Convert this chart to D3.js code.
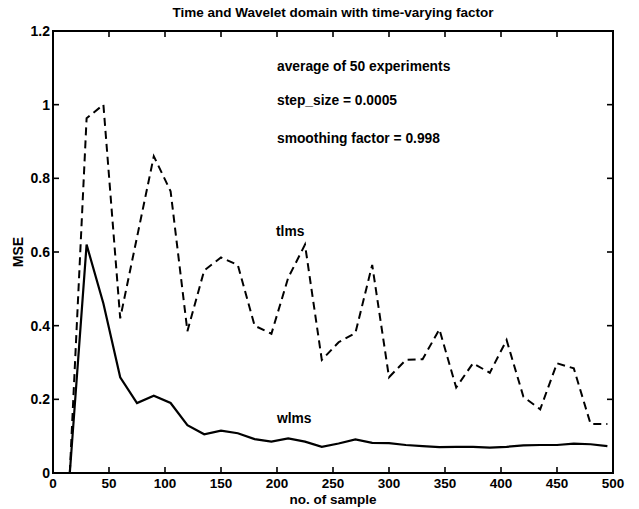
<!DOCTYPE html>
<html>
<head>
<meta charset="utf-8">
<script src="https://cdn.jsdelivr.net/npm/d3@7"></script>
<style>
  body { margin: 0; background: #fff; }
  svg { font-family: "Liberation Sans", Arial, sans-serif; font-weight: bold; }
</style>
</head>
<body>
<svg id="chart" width="639" height="509"></svg>
<script>
// samples (x) and the two MSE curves
const samples = [15,30,45,60,75,90,105,120,135,150,165,180,195,210,225,240,255,270,285,300,315,330,345,360,375,390,405,420,435,450,465,480,495];
const tlms = [0,0.963,1.0,0.42,0.64,0.86,0.765,0.385,0.55,0.585,0.565,0.40,0.378,0.53,0.62,0.307,0.355,0.38,0.565,0.26,0.307,0.309,0.39,0.232,0.298,0.272,0.361,0.207,0.173,0.298,0.284,0.133,0.133];
const wlms = [0,0.62,0.46,0.26,0.19,0.21,0.19,0.13,0.105,0.115,0.108,0.092,0.085,0.094,0.085,0.071,0.08,0.091,0.082,0.081,0.076,0.073,0.07,0.071,0.071,0.069,0.071,0.075,0.076,0.076,0.08,0.078,0.073];
const xTicks = [0,50,100,150,200,250,300,350,400,450,500];
const yTicks = [0,0.2,0.4,0.6,0.8,1,1.2];
const notes = ["average of 50 experiments", "step_size = 0.0005", "smoothing factor = 0.998"];

const svg = d3.select("#chart");
const mLeft = 53, mRight = 613, mTop = 31, mBottom = 473;

const x = d3.scaleLinear().domain([0, 500]).range([mLeft, mRight]);
const y = d3.scaleLinear().domain([0, 1.2]).range([mBottom, mTop]);

// frame
svg.append("rect")
  .attr("x", mLeft).attr("y", mTop)
  .attr("width", mRight - mLeft).attr("height", mBottom - mTop)
  .attr("fill", "none").attr("stroke", "#000").attr("stroke-width", 2);

// inward ticks on all four sides
const tk = 6;
svg.append("g").selectAll("line").data(xTicks).join("line")
  .attr("x1", d => x(d)).attr("x2", d => x(d))
  .attr("y1", mBottom).attr("y2", mBottom - tk)
  .attr("stroke", "#000").attr("stroke-width", 1.6);
svg.append("g").selectAll("line").data(xTicks).join("line")
  .attr("x1", d => x(d)).attr("x2", d => x(d))
  .attr("y1", mTop).attr("y2", mTop + tk)
  .attr("stroke", "#000").attr("stroke-width", 1.6);
svg.append("g").selectAll("line").data(yTicks).join("line")
  .attr("x1", mLeft).attr("x2", mLeft + tk)
  .attr("y1", d => y(d)).attr("y2", d => y(d))
  .attr("stroke", "#000").attr("stroke-width", 1.6);
svg.append("g").selectAll("line").data(yTicks).join("line")
  .attr("x1", mRight).attr("x2", mRight - tk)
  .attr("y1", d => y(d)).attr("y2", d => y(d))
  .attr("stroke", "#000").attr("stroke-width", 1.6);

// tick labels
svg.append("g").selectAll("text").data(xTicks).join("text")
  .attr("x", d => x(d)).attr("y", 488)
  .attr("text-anchor", "middle").attr("font-size", 13.5)
  .text(d => d);
svg.append("g").selectAll("text").data(yTicks).join("text")
  .attr("x", mLeft - 3).attr("y", d => y(d) + 5)
  .attr("text-anchor", "end").attr("font-size", 14)
  .text(d => d);

// titles
svg.append("text").attr("x", (mLeft + mRight) / 2).attr("y", 17)
  .attr("text-anchor", "middle").attr("font-size", 13.5)
  .text("Time and Wavelet domain with time-varying factor");
svg.append("text").attr("x", (mLeft + mRight) / 2).attr("y", 504)
  .attr("text-anchor", "middle").attr("font-size", 13.5)
  .text("no. of sample");
svg.append("text")
  .attr("transform", `translate(23,${(mTop + mBottom) / 2}) rotate(-90)`)
  .attr("text-anchor", "middle").attr("font-size", 14)
  .text("MSE");

// curves
const line = d3.line().x((d, i) => x(samples[i])).y(d => y(d));
svg.append("path").datum(tlms)
  .attr("d", line).attr("fill", "none")
  .attr("stroke", "#000").attr("stroke-width", 2)
  .attr("stroke-dasharray", "8,5");
svg.append("path").datum(wlms)
  .attr("d", line).attr("fill", "none")
  .attr("stroke", "#000").attr("stroke-width", 2.2);

// annotations
svg.append("g").selectAll("text").data(notes).join("text")
  .attr("x", 277).attr("y", (d, i) => [71, 105, 143][i])
  .attr("font-size", 13.8)
  .text(d => d);
svg.append("text").attr("x", 276).attr("y", 236).attr("font-size", 13.8).text("tlms");
svg.append("text").attr("x", 277).attr("y", 423).attr("font-size", 13.8).text("wlms");
</script>
</body>
</html>
